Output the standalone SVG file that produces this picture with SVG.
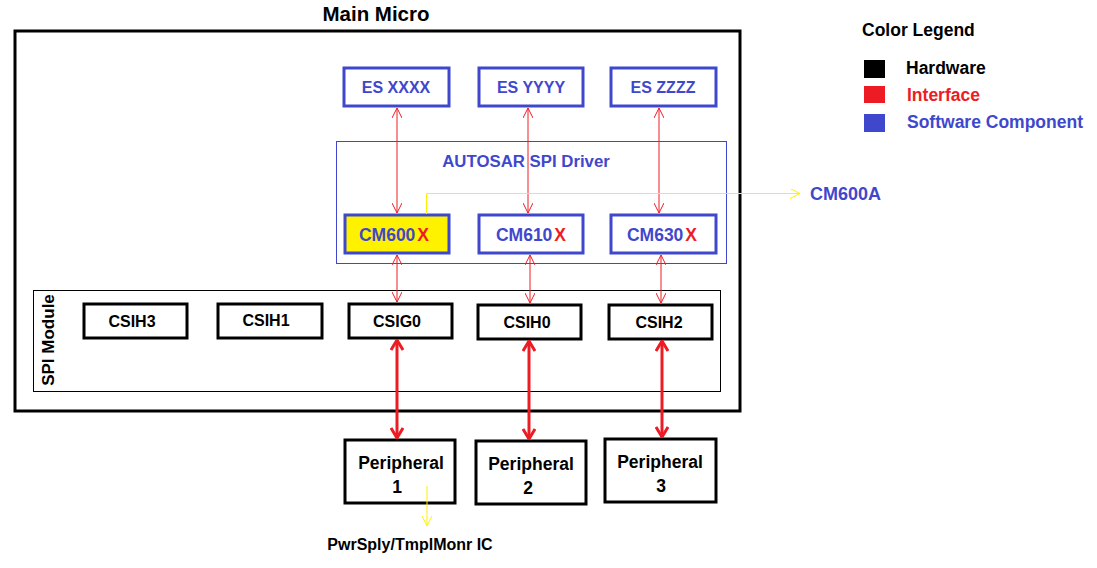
<svg xmlns="http://www.w3.org/2000/svg" width="1097" height="568" viewBox="0 0 1097 568">
<defs>
<style>
text{font-family:"Liberation Sans",Arial,sans-serif;font-weight:bold;}
.t{font-size:16px;text-anchor:middle;}
.lg{font-size:17.5px;}
.hw{fill:#fff;stroke:#000;stroke-width:3;}
.sw{fill:#fff;stroke:#3f48cc;stroke-width:3;}
.blue{fill:#3f48cc;}
.red{fill:#ed1c24;}
.thin{stroke:#ed1c24;stroke-width:1;fill:none;}
.thick{stroke:#ed1c24;stroke-width:3;fill:none;}
</style>
<marker id="ah" viewBox="0 0 10 10" refX="10" refY="5" markerWidth="10" markerHeight="10" markerUnits="userSpaceOnUse" orient="auto-start-reverse">
<path d="M0,0 L10,5 L0,10" fill="none" stroke="#ed1c24" stroke-width="1"/>
</marker>
<marker id="ahT" viewBox="0 0 12 14" refX="11" refY="7" markerWidth="12" markerHeight="14" markerUnits="userSpaceOnUse" orient="auto-start-reverse">
<path d="M1,1 L11,7 L1,13" fill="none" stroke="#ed1c24" stroke-width="3"/>
</marker>
<marker id="ahY" viewBox="0 0 10 10" refX="10" refY="5" markerWidth="10" markerHeight="10" markerUnits="userSpaceOnUse" orient="auto">
<path d="M0,0 L10,5 L0,10" fill="none" stroke="#fff200" stroke-width="1"/>
</marker>
</defs>
<rect width="1097" height="568" fill="#fff"/>

<g id="main-micro">
<rect x="15" y="31" width="725" height="380" fill="none" stroke="#000" stroke-width="3"/>
<text x="376" y="21" style="font-size:20.5px;text-anchor:middle">Main Micro</text>
</g>

<g id="autosar-spi-driver">
<rect x="336.500" y="141.500" width="390" height="122" fill="none" stroke="#3f48cc" stroke-width="1"/>
<text x="526" y="167" class="t blue" style="font-size:16.8px">AUTOSAR SPI Driver</text>
</g>

<g id="spi-module">
<rect x="33.500" y="290.500" width="687" height="101" fill="none" stroke="#000" stroke-width="1"/>
<text transform="translate(54,340) rotate(-90)" style="font-size:17px;text-anchor:middle">SPI Module</text>
</g>

<g id="es-xxxx"><rect x="344" y="68" width="105" height="38" class="sw"/><text x="396" y="93" class="t blue">ES XXXX</text></g>
<g id="es-yyyy"><rect x="479" y="68" width="104" height="38" class="sw"/><text x="531" y="93" class="t blue">ES YYYY</text></g>
<g id="es-zzzz"><rect x="611" y="68" width="105" height="38" class="sw"/><text x="663" y="93" class="t blue">ES ZZZZ</text></g>

<g id="cm600x"><rect x="345" y="215" width="104" height="38" fill="#fff200" stroke="#3f48cc" stroke-width="3"/><text x="394" y="241" class="t blue" style="font-size:17.5px">CM600<tspan class="red" dx="2">X</tspan></text></g>
<g id="cm610x"><rect x="479" y="215" width="104" height="38" class="sw"/><text x="531" y="241" class="t blue" style="font-size:17.5px">CM610<tspan class="red" dx="2">X</tspan></text></g>
<g id="cm630x"><rect x="611" y="215" width="105" height="38" class="sw"/><text x="662" y="241" class="t blue" style="font-size:17.5px">CM630<tspan class="red" dx="2">X</tspan></text></g>

<g id="csih3"><rect x="84" y="304" width="103" height="34" class="hw"/><text x="132" y="327" class="t">CSIH3</text></g>
<g id="csih1"><rect x="218" y="304" width="104" height="34" class="hw"/><text x="266" y="326" class="t">CSIH1</text></g>
<g id="csig0"><rect x="349" y="304" width="103" height="34" class="hw"/><text x="397" y="327" class="t">CSIG0</text></g>
<g id="csih0"><rect x="478" y="305" width="103" height="34" class="hw"/><text x="527" y="328" class="t">CSIH0</text></g>
<g id="csih2"><rect x="609" y="305" width="103" height="34" class="hw"/><text x="659" y="328" class="t">CSIH2</text></g>

<g id="peripheral-1"><rect x="345" y="440" width="110" height="63" class="hw"/><text x="401" y="469" class="t" style="font-size:17.5px">Peripheral</text><text x="397" y="493" class="t" style="font-size:17.5px">1</text></g>
<g id="peripheral-2"><rect x="476" y="441" width="110" height="63" class="hw"/><text x="531" y="470" class="t" style="font-size:17.5px">Peripheral</text><text x="528" y="494" class="t" style="font-size:17.5px">2</text></g>
<g id="peripheral-3"><rect x="605" y="439" width="111" height="63" class="hw"/><text x="660" y="468" class="t" style="font-size:17.5px">Peripheral</text><text x="661" y="492" class="t" style="font-size:17.5px">3</text></g>

<g id="cm600a"><text x="810" y="200" style="font-size:18px" class="blue">CM600A</text></g>
<g id="pwrsply"><text x="410" y="550" style="font-size:16px;text-anchor:middle">PwrSply/TmplMonr IC</text></g>

<g id="connectors">
<line x1="397" y1="108" x2="397" y2="213" class="thin" marker-start="url(#ah)" marker-end="url(#ah)"/>
<line x1="528" y1="108" x2="528" y2="213" class="thin" marker-start="url(#ah)" marker-end="url(#ah)"/>
<line x1="659" y1="108" x2="659" y2="213" class="thin" marker-start="url(#ah)" marker-end="url(#ah)"/>
<line x1="397" y1="255" x2="397" y2="302" class="thin" marker-start="url(#ah)" marker-end="url(#ah)"/>
<line x1="530" y1="255" x2="530" y2="303" class="thin" marker-start="url(#ah)" marker-end="url(#ah)"/>
<line x1="661" y1="255" x2="661" y2="303" class="thin" marker-start="url(#ah)" marker-end="url(#ah)"/>
<line x1="397" y1="340" x2="397" y2="438" class="thick" marker-start="url(#ahT)" marker-end="url(#ahT)"/>
<line x1="529" y1="341" x2="529" y2="439" class="thick" marker-start="url(#ahT)" marker-end="url(#ahT)"/>
<line x1="662" y1="341" x2="662" y2="437" class="thick" marker-start="url(#ahT)" marker-end="url(#ahT)"/>
<polyline points="426.500,214 426.500,193.500 800,193.500" fill="none" stroke="#fff200" stroke-width="1" marker-end="url(#ahY)"/>
<line x1="427" y1="486" x2="427" y2="526" stroke="#fff200" stroke-width="1" marker-end="url(#ahY)"/>
</g>

<g id="legend">
<text x="862" y="36" class="lg">Color Legend</text>
<rect x="864" y="60" width="21" height="18" fill="#000"/>
<rect x="864" y="86" width="21" height="17" fill="#ed1c24"/>
<rect x="864" y="114" width="21" height="18" fill="#3f48cc"/>
<text x="906" y="74" class="lg">Hardware</text>
<text x="907" y="101" class="lg red">Interface</text>
<text x="907" y="128" class="lg blue">Software Component</text>
</g>
</svg>
